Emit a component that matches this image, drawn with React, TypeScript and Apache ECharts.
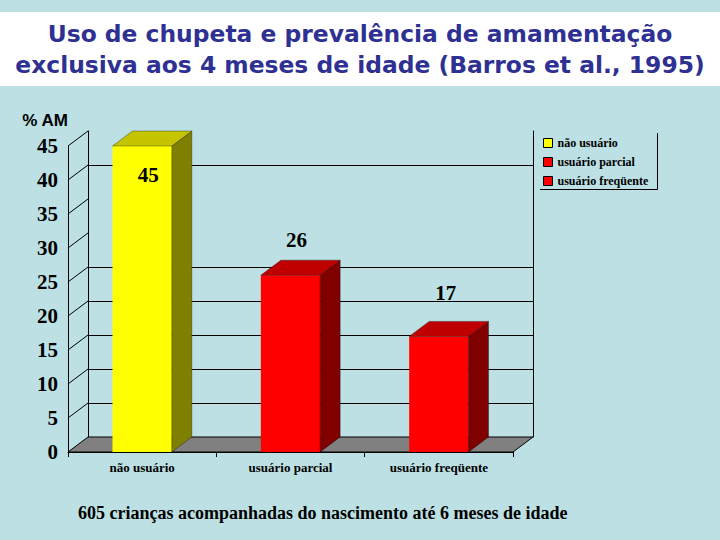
import React, { useEffect, useRef } from "react";
import * as echarts from "echarts";

const categories = ["não usuário", "usuário parcial", "usuário freqüente"];
const values = [45, 26, 17];
const yTicks = [5, 10, 15, 20, 25, 30, 35, 40, 45];
const gridLevels = [5, 10, 15, 20, 25, 40];

const frontColors = ["#FFFF00", "#FF0000", "#FF0000"];
const sideColors = ["#808000", "#800000", "#800000"];
const topColors = ["#C4C400", "#C00000", "#C00000"];
const labelDx = [6, 6, 7];
const labelDy = [29, -35, -43];
const DX = 20;
const DY = -15;
const BG = "#BCE0E4";
const SERIF = "Liberation Serif";
const SANS = "Liberation Sans";
const TITLE_FONT = "DejaVu Sans";

function snap(v: number) {
  return Math.round(v) + 0.5;
}

export default function App() {
  const ref = useRef<HTMLDivElement>(null);
  useEffect(() => {
    document.body.style.margin = "0";
    const chart = echarts.init(ref.current!, undefined, { renderer: "svg" });

    const barSeries = categories.map((name, i) => ({
      type: "custom",
      name,
      xAxisIndex: 0,
      yAxisIndex: 0,
      z: 5,
      silent: true,
      itemStyle: { color: frontColors[i] },
      data: [[i, values[i]]],
      renderItem: (params: any, api: any) => {
        const cat = api.value(0);
        const v = api.value(1);
        const [cx, cy] = api.coord([cat, v]);
        const y0 = api.coord([cat, 0])[1];
        const bw = api.size([1, 0])[0] * 0.4;
        const x1 = cx - bw / 2;
        const x2 = cx + bw / 2;
        return {
          type: "group",
          children: [
            {
              type: "rect",
              shape: { x: x1, y: cy, width: bw, height: y0 - cy },
              style: { fill: frontColors[i] },
            },
            {
              type: "polygon",
              shape: {
                points: [
                  [x2, cy],
                  [x2 + DX, cy + DY],
                  [x2 + DX, y0 + DY],
                  [x2, y0],
                ],
              },
              style: { fill: sideColors[i], stroke: "rgba(0,0,0,0.55)", lineWidth: 0.6 },
            },
            {
              type: "polygon",
              shape: {
                points: [
                  [x1, cy],
                  [x1 + DX, cy + DY],
                  [x2 + DX, cy + DY],
                  [x2, cy],
                ],
              },
              style: { fill: topColors[i], stroke: "rgba(0,0,0,0.55)", lineWidth: 0.6 },
            },
            {
              type: "text",
              style: {
                x: cx + labelDx[i],
                y: cy + labelDy[i],
                text: String(values[i]),
                fill: "#000",
                fontFamily: SERIF,
                fontWeight: "bold",
                fontSize: 21,
                align: "center",
                verticalAlign: "middle",
              },
            },
          ],
        };
      },
    }));

    const option: any = {
      animation: false,
      backgroundColor: BG,
      title: [
        {
          text:
            "Uso de chupeta e prevalência de amamentação\nexclusiva aos 4 meses de idade (Barros et al., 1995)",
          left: "center",
          top: 18,
          padding: 0,
          textStyle: {
            fontFamily: TITLE_FONT,
            fontWeight: "bold",
            fontSize: 23.4,
            lineHeight: 31,
            color: "#2E3192",
          },
        },
        {
          text: "605 crianças acompanhadas do nascimento até 6 meses de idade",
          left: 78,
          top: 504,
          padding: 0,
          textStyle: {
            fontFamily: SERIF,
            fontWeight: "bold",
            fontSize: 18,
            color: "#000",
          },
        },
      ],
      graphic: [
        {
          type: "rect",
          z: -10,
          shape: { x: 0, y: 12, width: 720, height: 74 },
          style: { fill: "#FFFFFF" },
        },
        {
          type: "polyline",
          shape: { points: [[540, 189.5], [657.5, 189.5], [657.5, 133]] },
          style: { stroke: "#000", lineWidth: 1, fill: "none" },
        },
      ],
      legend: {
        data: categories,
        orient: "vertical",
        left: 543,
        top: 136,
        padding: 0,
        icon: "rect",
        itemWidth: 9,
        itemHeight: 9,
        itemGap: 5,
        selectedMode: false,
        itemStyle: { borderColor: "#000", borderWidth: 1 },
        textStyle: {
          fontFamily: SERIF,
          fontWeight: "bold",
          fontSize: 12,
          lineHeight: 14,
          color: "#000",
        },
      },
      grid: [
        { left: 68, right: 207, top: 146, bottom: 88 },
        { left: 88, right: 187, top: 131, bottom: 103 },
      ],
      xAxis: [
        {
          type: "category",
          gridIndex: 0,
          data: categories,
          axisLine: { lineStyle: { color: "#000", width: 1 } },
          axisTick: { show: true, length: 5, lineStyle: { color: "#000" } },
          axisLabel: {
            margin: 9,
            color: "#000",
            fontFamily: SERIF,
            fontWeight: "bold",
            fontSize: 13,
          },
          splitLine: { show: false },
        },
        {
          type: "category",
          gridIndex: 1,
          data: categories,
          show: false,
        },
      ],
      yAxis: [
        {
          type: "value",
          gridIndex: 0,
          min: 0,
          max: 45,
          interval: 5,
          name: "% AM",
          nameLocation: "end",
          nameGap: 17,
          nameTextStyle: {
            fontFamily: SANS,
            fontWeight: "bold",
            fontSize: 17,
            color: "#000",
            align: "right",
          },
          axisLine: { show: true, lineStyle: { color: "#000", width: 1 } },
          axisTick: { show: false },
          splitLine: { show: false },
          axisLabel: {
            margin: 10,
            color: "#000",
            fontFamily: SERIF,
            fontWeight: "bold",
            fontSize: 21,
          },
        },
        {
          type: "value",
          gridIndex: 1,
          min: 0,
          max: 45,
          interval: 5,
          axisLine: { show: true, lineStyle: { color: "#000", width: 1 } },
          axisTick: { show: false },
          axisLabel: { show: false },
          splitLine: { show: false },
        },
        {
          type: "value",
          gridIndex: 1,
          position: "right",
          min: 0,
          max: 45,
          interval: 5,
          axisLine: { show: true, lineStyle: { color: "#000", width: 1 } },
          axisTick: { show: false },
          axisLabel: { show: false },
          splitLine: { show: false },
        },
      ],
      series: [
        {
          type: "custom",
          name: "gridlines",
          xAxisIndex: 1,
          yAxisIndex: 1,
          z: 1,
          silent: true,
          data: gridLevels.map((v) => [0, v]),
          renderItem: (params: any, api: any) => {
            const cs = params.coordSys;
            const y = snap(api.coord([0, api.value(1)])[1]);
            return {
              type: "line",
              shape: { x1: cs.x, y1: y, x2: cs.x + cs.width, y2: y },
              style: { stroke: "#000", lineWidth: 1 },
            };
          },
        },
        {
          type: "custom",
          name: "floor",
          xAxisIndex: 0,
          yAxisIndex: 0,
          z: 2,
          silent: true,
          data: [[0, 0]],
          renderItem: (params: any, api: any) => {
            const cs = params.coordSys;
            const yb = api.coord([0, 0])[1];
            const xl = cs.x;
            const xr = cs.x + cs.width;
            return {
              type: "polygon",
              shape: {
                points: [
                  [xl, yb],
                  [xr, yb],
                  [xr + DX, yb + DY],
                  [xl + DX, yb + DY],
                ],
              },
              style: { fill: "#808080", stroke: "#000", lineWidth: 1 },
            };
          },
        },
        {
          type: "custom",
          name: "sidewall",
          xAxisIndex: 0,
          yAxisIndex: 0,
          z: 2,
          silent: true,
          data: yTicks.map((v) => [0, v]),
          renderItem: (params: any, api: any) => {
            const cs = params.coordSys;
            const y = api.coord([0, api.value(1)])[1];
            return {
              type: "line",
              shape: { x1: cs.x, y1: y, x2: cs.x + DX, y2: y + DY },
              style: { stroke: "#000", lineWidth: 1 },
            };
          },
        },
        ...barSeries,
      ],
    };

    chart.setOption(option);
    return () => chart.dispose();
  }, []);

  return <div ref={ref} style={{ width: 720, height: 540 }} />;
}
